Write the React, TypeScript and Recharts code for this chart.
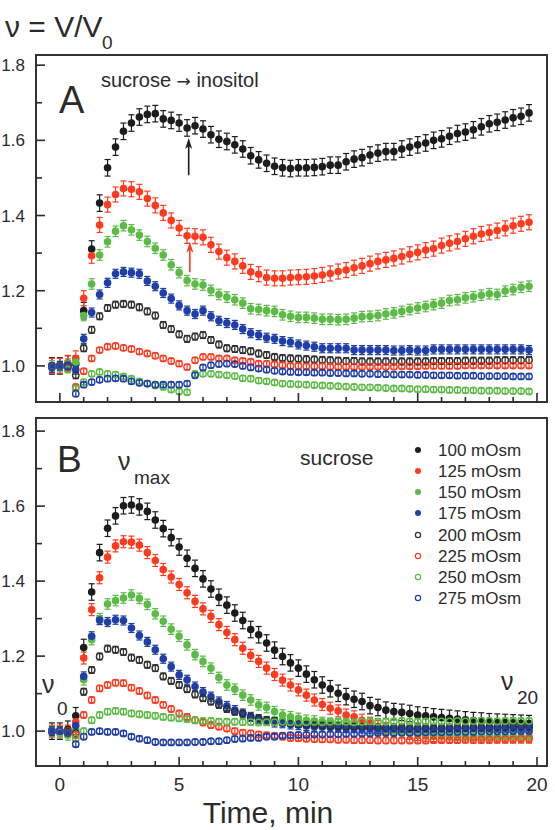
import React from 'react';
import {
  ScatterChart,
  Scatter,
  XAxis,
  YAxis,
  ErrorBar,
  ReferenceArea,
  ReferenceLine,
  ReferenceDot,
} from 'recharts';

const FONT = '"Liberation Sans", Arial, Helvetica, sans-serif';
const INK = '#2b2b2b';

// sampling grid: one frame every 20 s, starting 20 s before the switch
const TIMES = Array.from({ length: 61 }, (_, i) => (i - 1) / 3);
const X_TICKS = Array.from({ length: 21 }, (_, i) => i);
const Y_TICKS = [1.0, 1.1, 1.2, 1.3, 1.4, 1.5, 1.6, 1.7, 1.8];
const X_DOMAIN: [number, number] = [-1.0, 20.42];
const A_DOMAIN: [number, number] = [0.904, 1.827];
const B_DOMAIN: [number, number] = [0.907, 1.835];

const LABELS = ['100 mOsm', '125 mOsm', '150 mOsm', '175 mOsm', '200 mOsm', '225 mOsm', '250 mOsm', '275 mOsm'];
const COLORS = ['#1c1c1c', '#ff3b1f', '#5cbb46', '#1f3ea8', '#2e2e2e', '#ff3b1f', '#5cbb46', '#1f3ea8'];
const FILLED = [true, true, true, true, false, false, false, false];

// panel A: sucrose -> inositol
const A_100 = [
  1.000, 1.000, 1.005, 1.005, 1.147, 1.311, 1.433, 1.527, 1.582, 1.624,
  1.646, 1.662, 1.669, 1.671, 1.657, 1.653, 1.646, 1.633, 1.639, 1.630,
  1.615, 1.603, 1.597, 1.588, 1.577, 1.559, 1.548, 1.539, 1.531, 1.527,
  1.525, 1.527, 1.527, 1.528, 1.530, 1.534, 1.534, 1.543, 1.550, 1.554,
  1.561, 1.566, 1.570, 1.570, 1.577, 1.582, 1.588, 1.593, 1.600, 1.604,
  1.611, 1.618, 1.622, 1.628, 1.636, 1.644, 1.648, 1.654, 1.660, 1.664,
  1.673,
];
const A_125 = [
  1.000, 1.000, 1.008, 1.020, 1.180, 1.293, 1.375, 1.429, 1.456, 1.472,
  1.470, 1.463, 1.445, 1.427, 1.407, 1.387, 1.367, 1.346, 1.345, 1.342,
  1.322, 1.304, 1.288, 1.278, 1.266, 1.250, 1.244, 1.235, 1.233, 1.233,
  1.235, 1.236, 1.237, 1.239, 1.242, 1.246, 1.251, 1.255, 1.261, 1.266,
  1.272, 1.278, 1.282, 1.286, 1.291, 1.297, 1.302, 1.308, 1.312, 1.320,
  1.326, 1.331, 1.338, 1.345, 1.351, 1.355, 1.360, 1.366, 1.373, 1.378,
  1.382,
];
const A_150 = [
  1.000, 0.998, 1.005, 1.010, 1.134, 1.218, 1.295, 1.330, 1.358, 1.373,
  1.362, 1.348, 1.331, 1.313, 1.295, 1.269, 1.248, 1.227, 1.218, 1.215,
  1.201, 1.190, 1.183, 1.176, 1.167, 1.152, 1.150, 1.147, 1.145, 1.136,
  1.132, 1.129, 1.129, 1.127, 1.124, 1.124, 1.123, 1.124, 1.127, 1.131,
  1.132, 1.134, 1.138, 1.141, 1.145, 1.150, 1.154, 1.158, 1.163, 1.167,
  1.174, 1.176, 1.181, 1.184, 1.188, 1.192, 1.190, 1.199, 1.203, 1.209,
  1.212,
];
const A_175 = [
  0.995, 1.000, 1.002, 0.990, 1.072, 1.142, 1.190, 1.221, 1.245, 1.250,
  1.248, 1.245, 1.226, 1.212, 1.194, 1.179, 1.161, 1.147, 1.138, 1.147,
  1.132, 1.120, 1.114, 1.109, 1.098, 1.087, 1.082, 1.075, 1.072, 1.066,
  1.063, 1.057, 1.054, 1.051, 1.047, 1.047, 1.047, 1.047, 1.042, 1.042,
  1.042, 1.042, 1.042, 1.041, 1.041, 1.042, 1.041, 1.041, 1.044, 1.044,
  1.044, 1.044, 1.044, 1.044, 1.044, 1.044, 1.044, 1.044, 1.044, 1.044,
  1.042,
];
const A_200 = [
  1.000, 1.000, 0.998, 0.975, 1.047, 1.096, 1.132, 1.154, 1.163, 1.165,
  1.163, 1.156, 1.145, 1.134, 1.109, 1.098, 1.084, 1.072, 1.078, 1.082,
  1.069, 1.057, 1.047, 1.045, 1.042, 1.039, 1.033, 1.029, 1.024, 1.021,
  1.020, 1.019, 1.018, 1.017, 1.016, 1.015, 1.014, 1.013, 1.013, 1.012,
  1.012, 1.012, 1.012, 1.012, 1.012, 1.012, 1.012, 1.012, 1.013, 1.013,
  1.013, 1.013, 1.014, 1.014, 1.014, 1.014, 1.015, 1.015, 1.015, 1.015,
  1.016,
];
const A_225 = [
  1.000, 1.000, 0.995, 0.944, 0.986, 1.020, 1.042, 1.051, 1.053, 1.048,
  1.045, 1.038, 1.033, 1.027, 1.020, 1.013, 1.006, 0.997, 1.015, 1.024,
  1.024, 1.020, 1.020, 1.015, 1.013, 1.011, 1.006, 1.006, 1.004, 1.002,
  1.000, 1.000, 0.999, 0.999, 0.999, 0.998, 0.998, 0.998, 0.998, 0.998,
  0.998, 0.998, 0.998, 0.998, 0.999, 0.999, 0.999, 1.000, 1.000, 1.000,
  1.000, 1.000, 1.001, 1.001, 1.001, 1.001, 1.001, 1.001, 1.001, 1.001,
  1.001,
];
const A_250 = [
  1.000, 1.000, 0.990, 0.940, 0.957, 0.979, 0.984, 0.979, 0.977, 0.972,
  0.966, 0.959, 0.953, 0.948, 0.944, 0.937, 0.932, 0.930, 0.979, 0.979,
  0.979, 0.977, 0.975, 0.973, 0.967, 0.966, 0.961, 0.959, 0.956, 0.953,
  0.952, 0.951, 0.950, 0.949, 0.948, 0.947, 0.946, 0.945, 0.944, 0.943,
  0.943, 0.942, 0.941, 0.940, 0.940, 0.939, 0.938, 0.938, 0.937, 0.937,
  0.936, 0.936, 0.935, 0.935, 0.934, 0.934, 0.934, 0.933, 0.933, 0.933,
  0.932,
];
const A_275 = [
  1.000, 1.000, 0.998, 0.926, 0.950, 0.957, 0.963, 0.966, 0.967, 0.966,
  0.959, 0.955, 0.953, 0.950, 0.950, 0.950, 0.950, 0.953, 0.975, 0.996,
  1.002, 1.005, 1.006, 1.005, 1.000, 0.996, 0.993, 0.990, 0.987, 0.985,
  0.984, 0.983, 0.983, 0.982, 0.982, 0.981, 0.981, 0.980, 0.980, 0.979,
  0.979, 0.978, 0.978, 0.977, 0.977, 0.977, 0.976, 0.976, 0.975, 0.975,
  0.975, 0.974, 0.974, 0.974, 0.973, 0.973, 0.973, 0.973, 0.972, 0.972,
  0.972,
];
const A_ERR = [0.022, 0.02, 0.014, 0.012, 0.009, 0.007, 0.007, 0.007];

// panel B: sucrose only
const B_100 = [
  1.000, 1.000, 1.005, 1.041, 1.223, 1.371, 1.476, 1.541, 1.574, 1.601,
  1.603, 1.598, 1.586, 1.563, 1.540, 1.516, 1.491, 1.461, 1.434, 1.406,
  1.379, 1.357, 1.336, 1.315, 1.295, 1.271, 1.257, 1.235, 1.216, 1.199,
  1.182, 1.168, 1.152, 1.137, 1.123, 1.113, 1.101, 1.092, 1.085, 1.079,
  1.068, 1.063, 1.056, 1.052, 1.050, 1.047, 1.043, 1.041, 1.038, 1.036,
  1.034, 1.032, 1.030, 1.028, 1.027, 1.025, 1.024, 1.023, 1.022, 1.021,
  1.020,
];
const B_125 = [
  1.000, 1.000, 1.000, 1.025, 1.195, 1.324, 1.409, 1.464, 1.494, 1.505,
  1.504, 1.496, 1.476, 1.455, 1.431, 1.411, 1.391, 1.369, 1.346, 1.326,
  1.306, 1.284, 1.263, 1.244, 1.221, 1.202, 1.186, 1.168, 1.151, 1.136,
  1.123, 1.110, 1.096, 1.083, 1.071, 1.061, 1.054, 1.043, 1.038, 1.029,
  1.021, 1.012, 1.007, 1.003, 0.998, 0.994, 0.991, 0.989, 0.988, 0.987,
  0.986, 0.985, 0.985, 0.984, 0.984, 0.984, 0.984, 0.984, 0.984, 0.984,
  0.984,
];
const B_150 = [
  1.000, 0.995, 0.990, 1.005, 1.137, 1.244, 1.300, 1.339, 1.348, 1.355,
  1.363, 1.354, 1.338, 1.313, 1.293, 1.272, 1.253, 1.230, 1.204, 1.186,
  1.168, 1.143, 1.123, 1.112, 1.096, 1.083, 1.070, 1.063, 1.052, 1.043,
  1.038, 1.034, 1.029, 1.027, 1.023, 1.021, 1.018, 1.015, 1.012, 1.010,
  1.007, 1.005, 1.002, 1.000, 0.998, 0.996, 0.995, 0.993, 0.992, 0.991,
  0.990, 0.989, 0.988, 0.988, 0.987, 0.987, 0.986, 0.986, 0.986, 0.985,
  0.985,
];
const B_175 = [
  1.000, 1.000, 0.995, 1.015, 1.146, 1.253, 1.296, 1.291, 1.297, 1.295,
  1.275, 1.255, 1.238, 1.217, 1.193, 1.172, 1.150, 1.137, 1.119, 1.104,
  1.092, 1.079, 1.067, 1.056, 1.047, 1.038, 1.032, 1.027, 1.023, 1.021,
  1.018, 1.016, 1.014, 1.012, 1.011, 1.010, 1.009, 1.008, 1.008, 1.007,
  1.007, 1.006, 1.006, 1.006, 1.005, 1.005, 1.005, 1.005, 1.005, 1.006,
  1.006, 1.006, 1.007, 1.007, 1.007, 1.008, 1.008, 1.008, 1.009, 1.009,
  1.009,
];
const B_200 = [
  1.000, 1.000, 0.998, 0.995, 1.105, 1.163, 1.199, 1.220, 1.217, 1.211,
  1.196, 1.190, 1.177, 1.168, 1.146, 1.134, 1.123, 1.112, 1.098, 1.088,
  1.079, 1.070, 1.059, 1.052, 1.047, 1.038, 1.034, 1.029, 1.027, 1.023,
  1.021, 1.019, 1.017, 1.016, 1.015, 1.014, 1.013, 1.012, 1.012, 1.011,
  1.010, 1.010, 1.009, 1.009, 1.009, 1.008, 1.008, 1.008, 1.008, 1.008,
  1.009, 1.009, 1.009, 1.010, 1.010, 1.010, 1.011, 1.011, 1.011, 1.012,
  1.012,
];
const B_225 = [
  1.000, 1.000, 0.995, 0.990, 1.043, 1.083, 1.114, 1.123, 1.129, 1.128,
  1.116, 1.107, 1.095, 1.083, 1.070, 1.059, 1.047, 1.038, 1.029, 1.023,
  1.016, 1.012, 1.007, 1.000, 0.996, 0.994, 0.991, 0.989, 0.988, 0.985,
  0.982, 0.981, 0.980, 0.979, 0.978, 0.978, 0.977, 0.977, 0.976, 0.976,
  0.976, 0.975, 0.975, 0.975, 0.975, 0.975, 0.975, 0.975, 0.976, 0.976,
  0.976, 0.976, 0.977, 0.977, 0.977, 0.977, 0.978, 0.978, 0.978, 0.979,
  0.979,
];
const B_250 = [
  1.000, 0.998, 0.995, 0.980, 1.000, 1.029, 1.043, 1.052, 1.054, 1.052,
  1.047, 1.045, 1.043, 1.041, 1.038, 1.036, 1.034, 1.032, 1.029, 1.027,
  1.027, 1.025, 1.025, 1.025, 1.024, 1.024, 1.023, 1.024, 1.024, 1.025,
  1.024, 1.023, 1.024, 1.025, 1.024, 1.025, 1.026, 1.025, 1.024, 1.025,
  1.026, 1.025, 1.025, 1.026, 1.027, 1.026, 1.025, 1.026, 1.027, 1.026,
  1.026, 1.027, 1.026, 1.027, 1.028, 1.027, 1.026, 1.027, 1.028, 1.027,
  1.027,
];
const B_275 = [
  1.000, 1.000, 0.995, 0.965, 0.985, 0.998, 1.000, 0.998, 0.998, 0.994,
  0.985, 0.980, 0.976, 0.971, 0.970, 0.970, 0.970, 0.970, 0.971, 0.971,
  0.973, 0.973, 0.976, 0.979, 0.980, 0.982, 0.982, 0.985, 0.985, 0.988,
  0.989, 0.990, 0.990, 0.991, 0.991, 0.992, 0.992, 0.993, 0.993, 0.994,
  0.994, 0.995, 0.995, 0.995, 0.996, 0.996, 0.996, 0.997, 0.997, 0.997,
  0.998, 0.998, 0.998, 0.998, 0.999, 0.999, 0.999, 0.999, 1.000, 1.000,
  1.000,
];
const B_ERR = [0.022, 0.016, 0.014, 0.012, 0.009, 0.008, 0.008, 0.007];

const PANEL_A = [A_100, A_125, A_150, A_175, A_200, A_225, A_250, A_275];
const PANEL_B = [B_100, B_125, B_150, B_175, B_200, B_225, B_250, B_275];

// arrows marking the switch to inositol (time, tail value, head value)
const ARROWS_A = [
  { t: 5.4, from: 1.507, to: 1.606, color: COLORS[0] },
  { t: 5.45, from: 1.249, to: 1.33, color: COLORS[1] },
];

const XTick = (props: any) => {
  const { x, y, payload, showLabel } = props;
  const major = payload.value % 5 === 0;
  return (
    <g>
      <line x1={x} y1={y} x2={x} y2={y - (major ? 9 : 5)} stroke={INK} strokeWidth={1.6} />
      {showLabel && major && (
        <text x={x} y={y + 25} textAnchor="middle" fontSize={19} fill={INK}>
          {payload.value}
        </text>
      )}
    </g>
  );
};

const YTick = (props: any) => {
  const { x, y, payload } = props;
  const major = Math.round(payload.value * 10) % 2 === 0;
  return (
    <g>
      <line x1={x} y1={y} x2={x + (major ? 9 : 6)} y2={y} stroke={INK} strokeWidth={1.6} />
      {major && (
        <text x={x - 11} y={y} dy="0.36em" textAnchor="end" fontSize={17} fill={INK}>
          {payload.value.toFixed(1)}
        </text>
      )}
    </g>
  );
};

const marker = (color: string, filled: boolean) => (p: any) =>
  filled ? (
    <circle cx={p.cx} cy={p.cy} r={3.8} fill={color} />
  ) : (
    <circle cx={p.cx} cy={p.cy} r={3.2} fill="none" stroke={color} strokeWidth={1.4} />
  );

const arrowHead = (color: string) => (p: any) => (
  <path
    d={`M${p.cx},${p.cy} L${p.cx - 3.5},${p.cy + 11} L${p.cx},${p.cy + 8} L${p.cx + 3.5},${p.cy + 11} Z`}
    fill={color}
  />
);

interface PanelProps {
  series: number[][];
  errs: number[];
  domain: [number, number];
  height: number;
  top: number;
  marginTop: number;
  xAxisHeight: number;
  showXLabels: boolean;
  arrows?: { t: number; from: number; to: number; color: string }[];
}

const Panel: React.FC<PanelProps> = ({ series, errs, domain, height, top, marginTop, xAxisHeight, showXLabels, arrows = [] }) => (
  <div style={{ position: 'absolute', left: 0, top }}>
    <ScatterChart width={555} height={height} margin={{ top: marginTop, right: 8, bottom: 0, left: 0 }}>
      <XAxis
        type="number"
        dataKey="t"
        domain={X_DOMAIN}
        ticks={X_TICKS}
        interval={0}
        allowDataOverflow
        height={xAxisHeight}
        axisLine={false}
        tickLine={false}
        tickSize={0}
        tickMargin={0}
        tick={(p: any) => <XTick {...p} showLabel={showXLabels} />}
      />
      <YAxis
        type="number"
        dataKey="v"
        domain={domain}
        ticks={Y_TICKS}
        interval={0}
        allowDataOverflow
        width={36}
        axisLine={false}
        tickLine={false}
        tickSize={0}
        tickMargin={0}
        tick={(p: any) => <YTick {...p} />}
      />
      <ReferenceArea
        x1={X_DOMAIN[0]}
        x2={X_DOMAIN[1]}
        y1={domain[0]}
        y2={domain[1]}
        fill="none"
        stroke="#333"
        strokeWidth={2}
        ifOverflow="visible"
      />
      {series.map((values, s) => (
        <Scatter
          key={LABELS[s]}
          name={LABELS[s]}
          data={values.map((v, i) => ({ t: TIMES[i], v, err: errs[s] }))}
          shape={marker(COLORS[s], FILLED[s])}
          isAnimationActive={false}
        >
          <ErrorBar dataKey="err" direction="y" width={3} stroke={COLORS[s]} strokeWidth={1.2} isAnimationActive={false} />
        </Scatter>
      ))}
      {arrows.map((a) => (
        <ReferenceLine
          key={`shaft-${a.t}`}
          segment={[{ x: a.t, y: a.from }, { x: a.t, y: a.to - 0.02 }]}
          stroke={a.color}
          strokeWidth={1.6}
        />
      ))}
      {arrows.map((a) => (
        <ReferenceDot key={`head-${a.t}`} x={a.t} y={a.to} r={0} shape={arrowHead(a.color)} />
      ))}
    </ScatterChart>
  </div>
);

const LEGEND_Y = [450, 471, 492, 513, 535, 556, 577, 598];

export default function App() {
  return (
    <div
      style={{
        position: 'absolute',
        left: 0,
        top: 0,
        width: 555,
        height: 830,
        background: '#fff',
        fontFamily: FONT,
        color: INK,
      }}
    >
      <Panel
        series={PANEL_A}
        errs={A_ERR}
        domain={A_DOMAIN}
        height={410}
        top={0}
        marginTop={55}
        xAxisHeight={8}
        showXLabels={false}
        arrows={ARROWS_A}
      />
      <Panel
        series={PANEL_B}
        errs={B_ERR}
        domain={B_DOMAIN}
        height={420}
        top={410}
        marginTop={8}
        xAxisHeight={64}
        showXLabels={true}
      />
      <svg
        width={555}
        height={830}
        style={{ position: 'absolute', left: 0, top: 0, pointerEvents: 'none', fontFamily: FONT }}
      >
        <text x={5} y={37} fontSize={30} fill={INK}>
          ν = V/V
        </text>
        <text x={102} y={49} fontSize={19} fill={INK}>
          0
        </text>

        <text x={59} y={113} fontSize={38} fill={INK}>A</text>
        <text x={101} y={87} fontSize={20} fill={INK}>
          sucrose <tspan fontFamily='"DejaVu Sans", sans-serif' fontSize={17}>→</tspan> inositol
        </text>

        <text x={57} y={472} fontSize={37} fill={INK}>B</text>
        <text x={118} y={470} fontSize={25} fill={INK}>ν</text>
        <text x={134} y={484} fontSize={19} fill={INK}>max</text>
        <text x={300} y={465} fontSize={21} fill={INK}>sucrose</text>
        <text x={42} y={693} fontSize={25} fill={INK}>ν</text>
        <text x={57} y={715} fontSize={19} fill={INK}>0</text>
        <text x={501} y={690} fontSize={25} fill={INK}>ν</text>
        <text x={517} y={704} fontSize={19} fill={INK}>20</text>

        {LABELS.map((label, s) => (
          <g key={label}>
            {FILLED[s] ? (
              <circle cx={418} cy={LEGEND_Y[s]} r={3} fill={COLORS[s]} />
            ) : (
              <circle cx={418} cy={LEGEND_Y[s]} r={2.6} fill="none" stroke={COLORS[s]} strokeWidth={1.2} />
            )}
            <text x={438} y={LEGEND_Y[s] + 6} fontSize={17} fill={INK}>
              {label}
            </text>
          </g>
        ))}

        <text x={268} y={823} fontSize={30} textAnchor="middle" fill={INK}>
          Time, min
        </text>
      </svg>
    </div>
  );
}
